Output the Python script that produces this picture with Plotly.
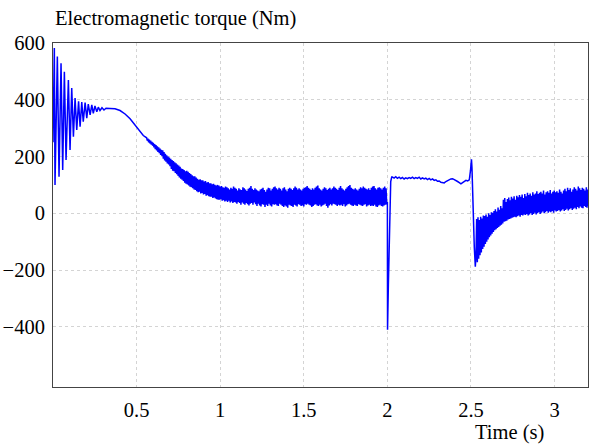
import numpy as np
import plotly.graph_objects as go

# ---------------- data ----------------
# Start-up transient: decaying oscillation and smooth hump
t_start = [0.000, 0.008, 0.012, 0.026, 0.036, 0.048, 0.058, 0.068, 0.078, 0.092,
           0.102, 0.112, 0.122, 0.132, 0.142, 0.153, 0.162, 0.172, 0.181, 0.192,
           0.202, 0.211, 0.222, 0.232, 0.241, 0.251, 0.262, 0.271, 0.281, 0.293,
           0.305, 0.317, 0.341, 0.371, 0.401, 0.431, 0.461, 0.491, 0.521, 0.540]
v_start = [250, 582, 100, 552, 129, 529, 153, 499, 188, 470,
           223, 441, 270, 406, 294, 395, 305, 392, 323, 390,
           335, 385, 347, 382, 352, 378, 358, 374, 362, 372,
           364, 370, 369, 368, 362, 350, 333, 310, 288, 274]

# Noisy band 0.56 s .. 1.996 s, one sample every 0.004 s
t0_band, dt_band = 0.56, 0.004
v_band = [266, 256, 263, 250, 260, 246, 256, 242, 252, 238, 248, 232,
          244, 226, 240, 222, 236, 216, 232, 212, 228, 206, 224, 202,
          222, 192, 216, 186, 210, 182, 204, 176, 200, 172, 196, 166,
          192, 156, 188, 150, 184, 148, 180, 142, 176, 138, 172, 132,
          168, 126, 164, 122, 158, 118, 156, 114, 152, 108, 148, 104,
          150, 102, 146, 98, 142, 94, 138, 92, 134, 88, 130, 84,
          130, 82, 126, 78, 122, 74, 118, 76, 120, 70, 116, 72,
          116, 66, 112, 68, 114, 62, 108, 64, 110, 60, 106, 58,
          106, 58, 102, 54, 104, 56, 100, 52, 98, 50, 100, 48,
          98, 48, 94, 50, 96, 44, 92, 46, 90, 42, 94, 44,
          92, 40, 88, 44, 84, 38, 90, 42, 86, 36, 94, 40,
          90, 38, 86, 34, 80, 40, 88, 36, 84, 30, 82, 38,
          92, 34, 88, 30, 84, 36, 78, 32, 86, 28, 90, 34,
          96, 36, 86, 30, 82, 38, 88, 32, 84, 26, 80, 34,
          78, 28, 84, 24, 86, 32, 90, 30, 82, 22, 76, 30,
          84, 26, 90, 34, 88, 28, 80, 24, 86, 32, 92, 30,
          94, 32, 88, 28, 84, 26, 90, 34, 86, 30, 80, 26,
          88, 22, 92, 28, 84, 24, 78, 20, 86, 30, 90, 28,
          86, 26, 82, 22, 88, 30, 94, 28, 90, 24, 84, 32,
          88, 30, 84, 26, 80, 28, 86, 24, 90, 32, 92, 30,
          96, 34, 90, 30, 86, 28, 82, 22, 88, 26, 84, 30,
          90, 32, 94, 28, 98, 26, 88, 30, 84, 24, 80, 28,
          86, 30, 92, 34, 88, 26, 82, 20, 86, 28, 90, 32,
          84, 28, 88, 34, 94, 32, 90, 30, 86, 26, 82, 30,
          90, 28, 96, 30, 88, 26, 84, 32, 80, 24, 86, 28,
          92, 32, 96, 34, 100, 30, 90, 28, 86, 26, 84, 30,
          88, 28, 84, 26, 80, 32, 86, 30, 92, 28, 88, 26,
          94, 30, 90, 32, 86, 24, 84, 28, 88, 30, 82, 26,
          90, 28, 94, 26, 96, 30, 88, 24, 84, 22, 90, 28,
          92, 30, 88, 26, 84, 24, 90, 28, 94, 30, 88, 32]

# Dip at 2 s
t_drop = [2.000, 2.001, 2.006, 2.009, 2.012, 2.016, 2.020, 2.026]
v_drop = [40, -410, -250, -140, -40, 80, 112, 128]

# Plateau 2.03 s .. 2.49 s, one sample every 0.01 s
t0_plat, dt_plat = 2.03, 0.01
v_plat = [128, 124, 129, 123, 127, 122, 126, 121, 125, 122,
          126, 123, 127, 122, 126, 123, 127, 121, 125, 121,
          124, 119, 123, 118, 121, 116, 118, 113, 114, 109,
          108, 107, 112, 115, 119, 121, 122, 119, 117, 112,
          108, 104, 108, 113, 116, 114, 118]

# Spike and drop at 2.5 s
t_step = [2.497, 2.503, 2.506, 2.510, 2.514, 2.520, 2.526, 2.530]
v_step = [150, 190, 160, 60, -20, -120, -188, -150]

# Recovery 2.534 s .. 3.202 s, one sample every 0.004 s
t0_rec, dt_rec = 2.534, 0.004
v_rec = [-20, -172, -14, -160, -24, -148, -12, -138, -18, -126, -8, -118,
         -10, -108, -4, -100, -12, -92, 0, -84, -6, -78, 4, -72,
         2, -66, 8, -60, 14, -56, 6, -52, 20, -48, 12, -44,
         26, -40, 18, -36, 48, -30, 54, -28, 40, -26, 50, -22,
         56, -20, 46, -18, 58, -16, 52, -14, 60, -12, 48, -14,
         62, -10, 56, -8, 64, -12, 58, -6, 66, -8, 54, -4,
         68, -6, 60, -2, 72, -8, 64, -4, 70, 0, 62, -6,
         74, -2, 66, 2, 70, -4, 78, 0, 68, 4, 72, -2,
         76, 2, 70, 6, 80, 0, 66, 4, 74, 8, 78, 2,
         72, 6, 82, 4, 70, 8, 76, 2, 80, 10, 74, 6,
         78, 8, 72, 12, 84, 6, 76, 10, 70, 14, 80, 8,
         86, 12, 78, 16, 90, 10, 82, 14, 88, 18, 76, 12,
         84, 16, 92, 20, 86, 14, 80, 22, 94, 18, 88, 24,
         82, 20, 90, 18, 86, 26, 80, 22, 92, 20, 84, 26]

x_ticks = [0.5, 1, 1.5, 2, 2.5, 3]
y_ticks = [-400, -200, 0, 200, 400, 600]

# ---------------- assemble ----------------
t_band = t0_band + dt_band * np.arange(len(v_band))
t_plat = t0_plat + dt_plat * np.arange(len(v_plat))
t_rec = t0_rec + dt_rec * np.arange(len(v_rec))

t_all = np.concatenate([t_start, t_band, t_drop, t_plat, t_step, t_rec])
v_all = np.concatenate([v_start, v_band, v_drop, v_plat, v_step, v_rec])

blue = "#0000ff"
font = "Liberation Serif"
fsize = 20.5

fig = go.Figure(go.Scatter(x=t_all, y=v_all, mode="lines",
                           line=dict(color=blue, width=1.5), hoverinfo="skip"))

fig.update_layout(
    width=598, height=444,
    margin=dict(l=53, r=10, t=43, b=57),
    paper_bgcolor="white", plot_bgcolor="white",
    showlegend=False,
    font=dict(family=font, size=fsize, color="black"),
    annotations=[
        dict(text="Electromagnetic torque (Nm)", xref="paper", yref="paper",
             x=0.0, y=1.07, xanchor="left", yanchor="middle", showarrow=False,
             font=dict(family=font, size=fsize, color="black")),
        dict(text="Time (s)", xref="paper", yref="paper",
             x=0.854, y=-0.131, xanchor="center", yanchor="middle", showarrow=False,
             font=dict(family=font, size=fsize, color="black")),
    ],
)
fig.update_xaxes(range=[0, 3.2], tickvals=x_ticks, ticktext=[str(v) for v in x_ticks],
                 showgrid=True, gridcolor="#d4d4d4", griddash="dot", gridwidth=1,
                 showline=True, linecolor="#444444", linewidth=1, mirror=True,
                 ticks="", zeroline=False, ticklabelstandoff=4, automargin=False,
                 tickfont=dict(family=font, size=fsize, color="black"))
fig.update_yaxes(range=[-612, 600], tickvals=y_ticks,
                 showgrid=True, gridcolor="#d4d4d4", griddash="dot", gridwidth=1,
                 showline=True, linecolor="#444444", linewidth=1, mirror=True,
                 ticks="", zeroline=False, ticklabelstandoff=3, automargin=False,
                 tickfont=dict(family=font, size=fsize, color="black"))

fig.write_html("out.html")
